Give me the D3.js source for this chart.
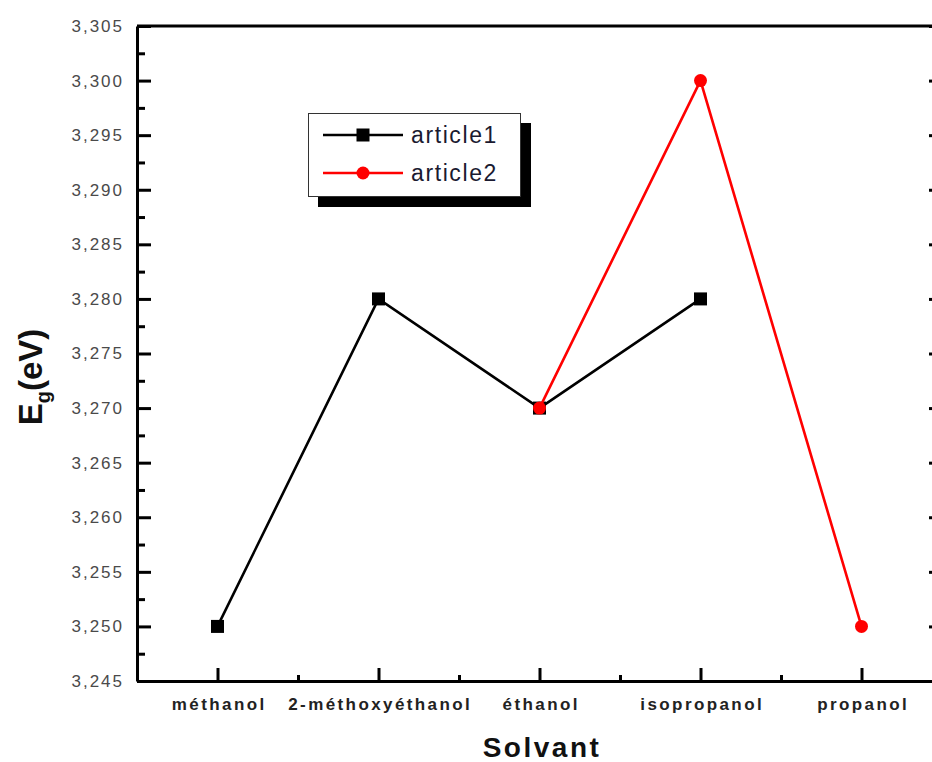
<!DOCTYPE html>
<html>
<head>
<meta charset="utf-8">
<script src="https://cdn.jsdelivr.net/npm/d3@7"></script>
<style>
  html, body { margin: 0; padding: 0; background: #fff; }
  svg { display: block; }
</style>
</head>
<body>
<svg id="chart" width="932" height="762"></svg>
<script>
// ---- data ----
const categories = ["méthanol", "2-méthoxyéthanol", "éthanol", "isopropanol", "propanol"];
const article1 = [3.250, 3.280, 3.270, 3.280, null];
const article2 = [null, null, 3.270, 3.300, 3.250];
const seriesNames = ["article1", "article2"];
const yMajorTicks = [3.245, 3.250, 3.255, 3.260, 3.265, 3.270, 3.275, 3.280, 3.285, 3.290, 3.295, 3.300, 3.305];
const yMinorTicks = [3.2475, 3.2525, 3.2575, 3.2625, 3.2675, 3.2725, 3.2775, 3.2825, 3.2875, 3.2925, 3.2975, 3.3025];
const xMinorTicks = [0.5, 1.5, 2.5, 3.5];
const xTitle = "Solvant";

// ---- layout ----
const svg = d3.select("#chart");
const mLeft = 137, mRight = 942, mTop = 26, mBottom = 681;

const x = d3.scaleLinear().domain([-0.5, 4.5]).range([mLeft, mRight]);
const y = d3.scaleLinear().domain([3.245, 3.305]).range([mBottom, mTop]);

const locale = d3.formatLocale({decimal: ",", thousands: ".", grouping: [3], currency: ["", ""]});
const fmt = locale.format(".3f");

const axisColor = "#000";
const axW = 3;

// top frame line
svg.append("line")
  .attr("x1", x(-0.5)).attr("x2", x(4.5))
  .attr("y1", y(3.305)).attr("y2", y(3.305))
  .attr("stroke", axisColor).attr("stroke-width", axW);

// left axis major
const gL = svg.append("g").attr("transform", `translate(${mLeft},0)`)
  .call(d3.axisLeft(y).tickValues(yMajorTicks).tickFormat(fmt).tickSizeInner(-14).tickSizeOuter(0).tickPadding(13));
gL.select(".domain").attr("stroke-width", axW);
gL.selectAll(".tick line").attr("stroke-width", axW);
gL.selectAll(".tick text")
  .attr("font-family", "Arial, 'Liberation Sans', sans-serif")
  .attr("font-size", 17).attr("letter-spacing", "2px")
  .attr("fill", "#4a4a4a");
// left axis minor
const gLm = svg.append("g").attr("transform", `translate(${mLeft},0)`)
  .call(d3.axisLeft(y).tickValues(yMinorTicks).tickFormat("").tickSizeInner(-8).tickSizeOuter(0));
gLm.select(".domain").remove();
gLm.selectAll(".tick line").attr("stroke-width", axW);

// right axis major (inward)
const gR = svg.append("g").attr("transform", `translate(${mRight},0)`)
  .call(d3.axisRight(y).tickValues(yMajorTicks).tickFormat("").tickSizeInner(-13).tickSizeOuter(0));
gR.select(".domain").attr("stroke-width", axW);
gR.selectAll(".tick line").attr("stroke-width", axW);

// bottom axis major
const gB = svg.append("g").attr("transform", `translate(0,${mBottom})`)
  .call(d3.axisBottom(x).tickValues(d3.range(categories.length)).tickFormat(i => categories[i]).tickSizeInner(-13).tickSizeOuter(0).tickPadding(17));
gB.select(".domain").attr("stroke-width", axW);
gB.selectAll(".tick line").attr("stroke-width", axW);
gB.selectAll(".tick text")
  .attr("font-family", "Arial, 'Liberation Sans', sans-serif")
  .attr("font-size", 17).attr("font-weight", "bold").attr("letter-spacing", "2.4px")
  .attr("fill", "#222")
  .attr("dx", "1.2px");
// bottom minor
const gBm = svg.append("g").attr("transform", `translate(0,${mBottom})`)
  .call(d3.axisBottom(x).tickValues(xMinorTicks).tickFormat("").tickSizeInner(-6).tickSizeOuter(0));
gBm.select(".domain").remove();
gBm.selectAll(".tick line").attr("stroke-width", axW);

// axis titles
svg.append("text")
  .attr("x", 542).attr("y", 757)
  .attr("text-anchor", "middle")
  .attr("font-family", "Arial, 'Liberation Sans', sans-serif")
  .attr("font-size", 28).attr("font-weight", "bold").attr("letter-spacing", "2.5px")
  .attr("fill", "#111")
  .text(xTitle);

const yt = svg.append("text")
  .attr("transform", "translate(42,377) rotate(-90)")
  .attr("text-anchor", "middle")
  .attr("font-family", "Arial, 'Liberation Sans', sans-serif")
  .attr("font-size", 33).attr("font-weight", "bold")
  .attr("fill", "#111");
yt.append("tspan").text("E");
yt.append("tspan").attr("font-size", 20).attr("dy", 8).text("g");
yt.append("tspan").attr("dy", -8).text("(eV)");

// ---- series ----
const line = d3.line()
  .defined(d => d.v !== null)
  .x(d => x(d.i)).y(d => y(d.v));

function drawSeries(values, color, shape) {
  const pts = values.map((v, i) => ({i, v}));
  svg.append("path")
    .datum(pts)
    .attr("fill", "none").attr("stroke", color).attr("stroke-width", 2.6)
    .attr("d", line);
  const valid = pts.filter(d => d.v !== null);
  if (shape === "square") {
    svg.selectAll(null).data(valid).enter().append("rect")
      .attr("x", d => x(d.i) - 6.5).attr("y", d => y(d.v) - 6.5)
      .attr("width", 13).attr("height", 13).attr("fill", color);
  } else {
    svg.selectAll(null).data(valid).enter().append("circle")
      .attr("cx", d => x(d.i)).attr("cy", d => y(d.v))
      .attr("r", 6.5).attr("fill", color);
  }
}
drawSeries(article1, "#000", "square");
drawSeries(article2, "#ff0000", "circle");

// ---- legend ----
const lg = svg.append("g");
lg.append("rect").attr("x", 318).attr("y", 123).attr("width", 213).attr("height", 84).attr("fill", "#000");
lg.append("rect").attr("x", 308.5).attr("y", 113.5).attr("width", 212).attr("height", 83)
  .attr("fill", "#fff").attr("stroke", "#333").attr("stroke-width", 1);
const legendColors = ["#000", "#ff0000"];
const legendShapes = ["square", "circle"];
seriesNames.forEach((name, k) => {
  const cy = 135 + k * 38;
  lg.append("line").attr("x1", 323).attr("x2", 403).attr("y1", cy).attr("y2", cy)
    .attr("stroke", legendColors[k]).attr("stroke-width", 2.6);
  if (legendShapes[k] === "square") {
    lg.append("rect").attr("x", 363 - 6.5).attr("y", cy - 6.5).attr("width", 13).attr("height", 13).attr("fill", legendColors[k]);
  } else {
    lg.append("circle").attr("cx", 363).attr("cy", cy).attr("r", 6.5).attr("fill", legendColors[k]);
  }
  lg.append("text").attr("x", 411).attr("y", cy + 8)
    .attr("font-family", "Arial, 'Liberation Sans', sans-serif")
    .attr("font-size", 23).attr("letter-spacing", "1.6px")
    .attr("fill", "#1a1a30")
    .text(name);
});
</script>
</body>
</html>
